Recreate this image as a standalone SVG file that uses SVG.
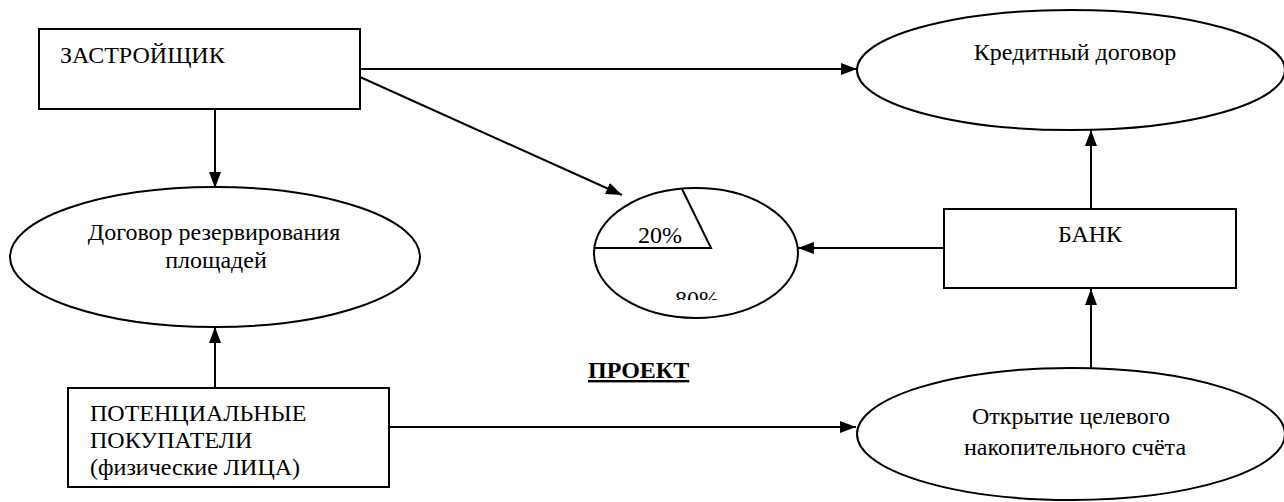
<svg xmlns="http://www.w3.org/2000/svg" width="1284" height="502" viewBox="0 0 1284 502">
  <style>
    .box { fill: #fff; stroke: #000; stroke-width: 2; }
    .shape { fill: #fff; stroke: #000; stroke-width: 2; }
    .edge { fill: none; stroke: #000; stroke-width: 2; }
    .c { text-anchor: middle; }
    .b { font-weight: bold; text-decoration: underline; }
  </style>
  <defs>
    <marker id="arrow" viewBox="0 0 16 12" refX="16" refY="6" markerWidth="16" markerHeight="12" markerUnits="userSpaceOnUse" orient="auto">
      <path d="M0,0 L16,6 L0,12 Z" fill="#000"/>
    </marker>
    <clipPath id="pieClip">
      <rect x="594" y="180" width="210" height="120"/>
    </clipPath>
  </defs>
  <rect width="1284" height="502" fill="#fff"/>

  <!-- connectors -->
  <g id="connectors">
    <line class="edge" x1="360" y1="69" x2="857" y2="69" marker-end="url(#arrow)"/>
    <line class="edge" x1="360" y1="77" x2="622" y2="195" marker-end="url(#arrow)"/>
    <line class="edge" x1="215" y1="109" x2="215" y2="188" marker-end="url(#arrow)"/>
    <line class="edge" x1="215" y1="388" x2="215" y2="327" marker-end="url(#arrow)"/>
    <line class="edge" x1="389" y1="427" x2="856" y2="427" marker-end="url(#arrow)"/>
    <line class="edge" x1="944" y1="248" x2="798" y2="248" marker-end="url(#arrow)"/>
    <line class="edge" x1="1091" y1="209" x2="1091" y2="130" marker-end="url(#arrow)"/>
    <line class="edge" x1="1091" y1="368" x2="1091" y2="289" marker-end="url(#arrow)"/>
  </g>

  <!-- developer -->
  <g id="developer">
    <rect class="box" x="39" y="29" width="321" height="80"/>
    <text x="60" y="63" font-family="Liberation Serif" font-size="24">ЗАСТРОЙЩИК</text>
  </g>

  <!-- loan agreement -->
  <g id="loan-agreement">
    <ellipse class="shape" cx="1071" cy="70" rx="214" ry="60"/>
    <text class="c" x="1075" y="60" font-family="Liberation Serif" font-size="24">Кредитный договор</text>
  </g>

  <!-- reservation agreement -->
  <g id="reservation">
    <ellipse class="shape" cx="215" cy="257" rx="205" ry="70"/>
    <text class="c" x="214" y="240" font-family="Liberation Serif" font-size="24">Договор резервирования</text>
    <text class="c" x="216" y="268" font-family="Liberation Serif" font-size="24">площадей</text>
  </g>

  <!-- financing split -->
  <g id="financing-pie">
    <ellipse class="shape" cx="696" cy="253" rx="102" ry="65"/>
    <polyline class="edge" points="594,248 711,248 682,189"/>
    <text x="638" y="243" font-family="Liberation Serif" font-size="24">20%</text>
    <text x="675" y="307" font-family="Liberation Serif" font-size="24" clip-path="url(#pieClip)">80%</text>
  </g>

  <!-- bank -->
  <g id="bank">
    <rect class="box" x="944" y="209" width="292" height="79"/>
    <text class="c" x="1090" y="242" font-family="Liberation Serif" font-size="24">БАНК</text>
  </g>

  <!-- buyers -->
  <g id="buyers">
    <rect class="box" x="68" y="388" width="321" height="99"/>
    <text x="90" y="421" font-family="Liberation Serif" font-size="24">ПОТЕНЦИАЛЬНЫЕ</text>
    <text x="90" y="448" font-family="Liberation Serif" font-size="24">ПОКУПАТЕЛИ</text>
    <text x="90" y="475" font-family="Liberation Serif" font-size="24">(физические ЛИЦА)</text>
  </g>

  <!-- savings account -->
  <g id="savings-account">
    <ellipse class="shape" cx="1071" cy="434" rx="214" ry="66"/>
    <text class="c" x="1071" y="424" font-family="Liberation Serif" font-size="24">Открытие целевого</text>
    <text class="c" x="1075" y="455" font-family="Liberation Serif" font-size="24">накопительного счёта</text>
  </g>

  <!-- project label -->
  <g id="project-label">
    <text class="b" x="588" y="378" font-family="Liberation Serif" font-size="24">ПРОЕКТ</text>
  </g>
</svg>
